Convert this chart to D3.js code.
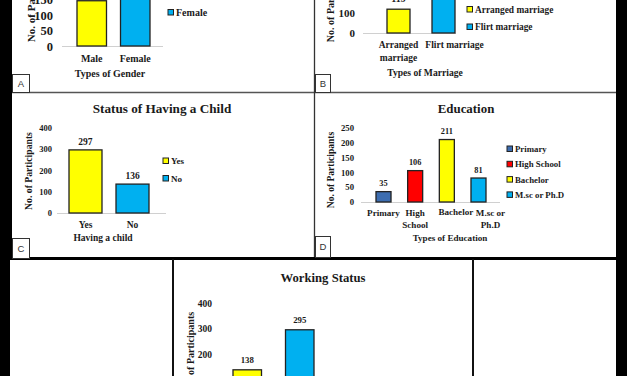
<!DOCTYPE html>
<html>
<head>
<meta charset="utf-8">
<script src="https://cdn.jsdelivr.net/npm/d3@7"></script>
<style>
html,body{margin:0;padding:0;background:#000;}
svg{display:block;}
</style>
</head>
<body>
<svg id="chart" width="627" height="376"></svg>
<script>
// ---------- DATA ----------
const genderCategories = ["Male", "Female"];
const genderValues = [146, 287];
const genderTickLabels = [["Male"], ["Female"]];
const genderTicks = [0, 50, 100, 150];

const marriageCategories = ["Arranged marriage", "Flirt marriage"];
const marriageValues = [119, 314];
const marriageTickLabels = [["Arranged", "marriage"], ["Flirt marriage"]];
const marriageTicks = [0, 100, 200];

const childCategories = ["Yes", "No"];
const childValues = [297, 136];
const childTickLabels = [["Yes"], ["No"]];
const childTicks = [0, 100, 200, 300, 400];

const educationCategories = ["Primary", "High School", "Bachelor", "M.sc or Ph.D"];
const educationValues = [35, 106, 211, 81];
const educationTickLabels = [["Primary"], ["High", "School"], ["Bachelor"], ["M.sc or", "Ph.D"]];
const educationTicks = [0, 50, 100, 150, 200, 250];

const workCategories = ["Employed", "Unemployed"];
const workValues = [138, 295];
const workTickLabels = [["Employed"], ["Unemployed"]];
const workTicks = [0, 100, 200, 300, 400];

// ---------- STYLE ----------
const YELLOW = "#ffff00", BLUE = "#00b0f0", DBLUE = "#3d6db0", RED = "#ff0000";
const SERIF = "'Liberation Serif','Times New Roman',serif";
const INK = "#1a1a1a";

const svg = d3.select("#chart");

// background panels
svg.append("rect").attr("width", 627).attr("height", 376).attr("fill", "#000");
const panels = [
  [12, 0, 302, 92], [315, 0, 301, 92],
  [12, 93, 302, 165], [315, 93, 301, 165],
  [10, 260, 163, 116], [174, 260, 299, 116], [474, 260, 142, 116]
];
svg.selectAll("rect.panel").data(panels).join("rect").attr("class", "panel")
  .attr("x", d => d[0]).attr("y", d => d[1]).attr("width", d => d[2]).attr("height", d => d[3])
  .attr("fill", "#fff");
// separators
svg.append("line").attr("x1", 12).attr("x2", 616).attr("y1", 92.5).attr("y2", 92.5).attr("stroke", "#555").attr("stroke-width", 1.5);
svg.append("line").attr("x1", 314.5).attr("x2", 314.5).attr("y1", 0).attr("y2", 258).attr("stroke", "#333").attr("stroke-width", 1.3);
svg.append("rect").attr("x", 8).attr("y", 257).attr("width", 610).attr("height", 3).attr("fill", "#000");
svg.append("rect").attr("x", 172).attr("y", 259).attr("width", 2).attr("height", 117).attr("fill", "#111");
svg.append("rect").attr("x", 472).attr("y", 259).attr("width", 2).attr("height", 117).attr("fill", "#111");

function drawPanel(c) {
  const g = svg.append("g");
  const y = d3.scaleLinear().domain(c.domain).range(c.yRange);
  const x = d3.scaleBand().domain(c.categories).range(c.xRange).paddingInner(c.pad).paddingOuter(0);

  // baseline
  g.append("line").attr("x1", c.base[0]).attr("x2", c.base[1])
    .attr("y1", y(0) + 0.5).attr("y2", y(0) + 0.5).attr("stroke", "#d0d0d0").attr("stroke-width", 1);

  // y axis
  const ax = g.append("g").attr("transform", `translate(${c.tickX},0)`)
    .call(d3.axisLeft(y).tickValues(c.ticks).tickSize(0).tickPadding(0).tickFormat(d3.format("d")));
  ax.select(".domain").remove();
  ax.selectAll("text").attr("font-family", SERIF).attr("font-weight", "bold")
    .attr("font-size", c.tickFont).attr("fill", INK);

  // bars
  g.selectAll("rect.bar").data(c.values).join("rect").attr("class", "bar")
    .attr("x", (d, i) => x(c.categories[i])).attr("width", x.bandwidth())
    .attr("y", d => y(d)).attr("height", d => y(0) - y(d))
    .attr("fill", (d, i) => c.colors[i]).attr("stroke", "#222").attr("stroke-width", 1.3);

  // value labels
  g.selectAll("text.val").data(c.values).join("text").attr("class", "val")
    .attr("x", (d, i) => x(c.categories[i]) + x.bandwidth() / 2)
    .attr("y", d => y(d) - c.valOff)
    .attr("text-anchor", "middle").attr("font-family", SERIF).attr("font-weight", "bold")
    .attr("font-size", c.valFont).attr("fill", INK).text(d => d);

  // category labels
  c.tickLabels.forEach((lines, i) => {
    const cx = x(c.categories[i]) + x.bandwidth() / 2 + (c.labelDx ? c.labelDx[i] : 0);
    const t = g.append("text").attr("text-anchor", "middle").attr("font-family", SERIF)
      .attr("font-weight", "bold").attr("font-size", c.catFont).attr("fill", INK);
    lines.forEach((ln, j) => {
      t.append("tspan").attr("x", cx).attr("y", c.catY + j * c.catLH + (c.labelDy ? c.labelDy[i] : 0)).text(ln);
    });
  });

  // x title
  g.append("text").attr("x", c.xTitle[0]).attr("y", c.xTitle[1]).attr("text-anchor", "middle")
    .attr("font-family", SERIF).attr("font-weight", "bold").attr("font-size", c.xTitleFont)
    .attr("fill", INK).text(c.xTitleText);

  // y title
  g.append("text").attr("transform", `translate(${c.yTitle[0]},${c.yTitle[1]}) rotate(-90)`)
    .attr("text-anchor", "middle").attr("font-family", SERIF).attr("font-weight", "bold")
    .attr("font-size", c.yTitleFont).attr("fill", INK).text("No. of Participants");

  // chart title
  if (c.title) {
    g.append("text").attr("x", c.title[0]).attr("y", c.title[1]).attr("text-anchor", "middle")
      .attr("font-family", SERIF).attr("font-weight", "bold").attr("font-size", c.titleFont)
      .attr("fill", INK).text(c.titleText);
  }

  // legend
  const lg = g.selectAll("g.leg").data(c.categories).join("g").attr("class", "leg")
    .attr("transform", (d, i) => `translate(${c.leg[0]},${c.leg[1] + i * c.legStep})`);
  lg.append("rect").attr("x", 0).attr("y", -3).attr("width", 5.5).attr("height", 5.5)
    .attr("fill", (d, i) => c.colors[i]).attr("stroke", "#222").attr("stroke-width", 1);
  lg.append("text").attr("x", 8).attr("y", 0).attr("dy", "0.35em").attr("font-family", SERIF)
    .attr("font-weight", "bold").attr("font-size", c.legFont).attr("fill", INK).text(d => d);

  // panel letter
  if (c.letter) {
    const [lx, ly, lw, lh] = c.letterBox;
    g.append("rect").attr("x", lx + 0.5).attr("y", ly + 0.5).attr("width", lw).attr("height", lh)
      .attr("fill", "#fff").attr("stroke", "#333").attr("stroke-width", 1);
    g.append("text").attr("x", lx + lw / 2 + 0.5).attr("y", ly + lh / 2 + 0.5).attr("dy", "0.36em")
      .attr("text-anchor", "middle").attr("font-family", "'Liberation Sans',Arial,sans-serif")
      .attr("font-size", 9.5).attr("fill", "#333").text(c.letter);
  }
}

// A: Gender
drawPanel({
  categories: genderCategories, values: genderValues, tickLabels: genderTickLabels, ticks: genderTicks,
  colors: [YELLOW, BLUE], domain: [0, 150], yRange: [46, -0.5], xRange: [77, 150], pad: 0.322,
  base: [62, 163], tickX: 53, tickFont: 12.5, valOff: 7, valFont: 10,
  catY: 62, catLH: 12, catFont: 10, labelDx: [0, 0],
  xTitle: [110, 77], xTitleText: "Types of Gender", xTitleFont: 10,
  yTitle: [35, -2], yTitleFont: 11, leg: [168, -4.5], legStep: 17, legFont: 10,
  letter: "A", letterBox: [12, 74, 17, 18]
});

// B: Marriage
drawPanel({
  categories: marriageCategories, values: marriageValues, tickLabels: marriageTickLabels, ticks: marriageTicks,
  colors: [YELLOW, BLUE], domain: [0, 100], yRange: [33, 13], xRange: [387, 455], pad: 0.489,
  base: [363, 456], tickX: 355, tickFont: 11, valOff: 7, valFont: 10,
  catY: 48, catLH: 12.5, catFont: 9.5, labelDx: [0, 11],
  xTitle: [425, 76], xTitleText: "Types of Marriage", xTitleFont: 9.6,
  yTitle: [334, 2], yTitleFont: 10, leg: [467, 9.5], legStep: 17.5, legFont: 9.4,
  letter: "B", letterBox: [315, 74, 15, 18]
});

// C: Child
drawPanel({
  categories: childCategories, values: childValues, tickLabels: childTickLabels, ticks: childTicks,
  colors: [YELLOW, BLUE], domain: [0, 400], yRange: [213, 128], xRange: [69, 149], pad: 0.298,
  base: [57, 166], tickX: 52, tickFont: 8.5, valOff: 5, valFont: 9.5,
  catY: 228, catLH: 12, catFont: 9.5, xTitle: [103, 240.5], xTitleText: "Having a child", xTitleFont: 9.5,
  yTitle: [32, 171], yTitleFont: 9.7, leg: [163, 161], legStep: 17.5, legFont: 9,
  title: [162, 113], titleText: "Status of Having a Child", titleFont: 13.2,
  letter: "C", letterBox: [12, 238, 17, 20]
});

// D: Education
drawPanel({
  categories: educationCategories, values: educationValues, tickLabels: educationTickLabels, ticks: educationTicks,
  colors: [DBLUE, RED, YELLOW, BLUE], domain: [0, 250], yRange: [202, 128], xRange: [376, 486], pad: 0.526,
  base: [361, 500], tickX: 354, tickFont: 8.7, valOff: 5.5, valFont: 8.3,
  catY: 216, catLH: 12, catFont: 9.1, labelDx: [0, 0, 9, 12], labelDy: [0, 0, -1.5, 0],
  xTitle: [450, 241], xTitleText: "Types of Education", xTitleFont: 9.1,
  yTitle: [334, 170], yTitleFont: 9.5, leg: [507, 149], legStep: 15.3, legFont: 8.8,
  title: [466, 113], titleText: "Education", titleFont: 12.9,
  letter: "D", letterBox: [315, 236, 15, 21]
});

// Working status (bottom middle)
drawPanel({
  categories: workCategories, values: workValues, tickLabels: workTickLabels, ticks: workTicks,
  colors: [YELLOW, BLUE], domain: [0, 400], yRange: [405, 303], xRange: [233, 314], pad: 0.457,
  base: [220, 340], tickX: 212, tickFont: 9.5, valOff: 7, valFont: 8.8,
  catY: 420, catLH: 12, catFont: 10, xTitle: [280, 445], xTitleText: "Working Status", xTitleFont: 10,
  yTitle: [193.5, 352], yTitleFont: 10, leg: [345, 385], legStep: 17, legFont: 10,
  title: [323, 282], titleText: "Working Status", titleFont: 12.7
});
</script>
</body>
</html>
